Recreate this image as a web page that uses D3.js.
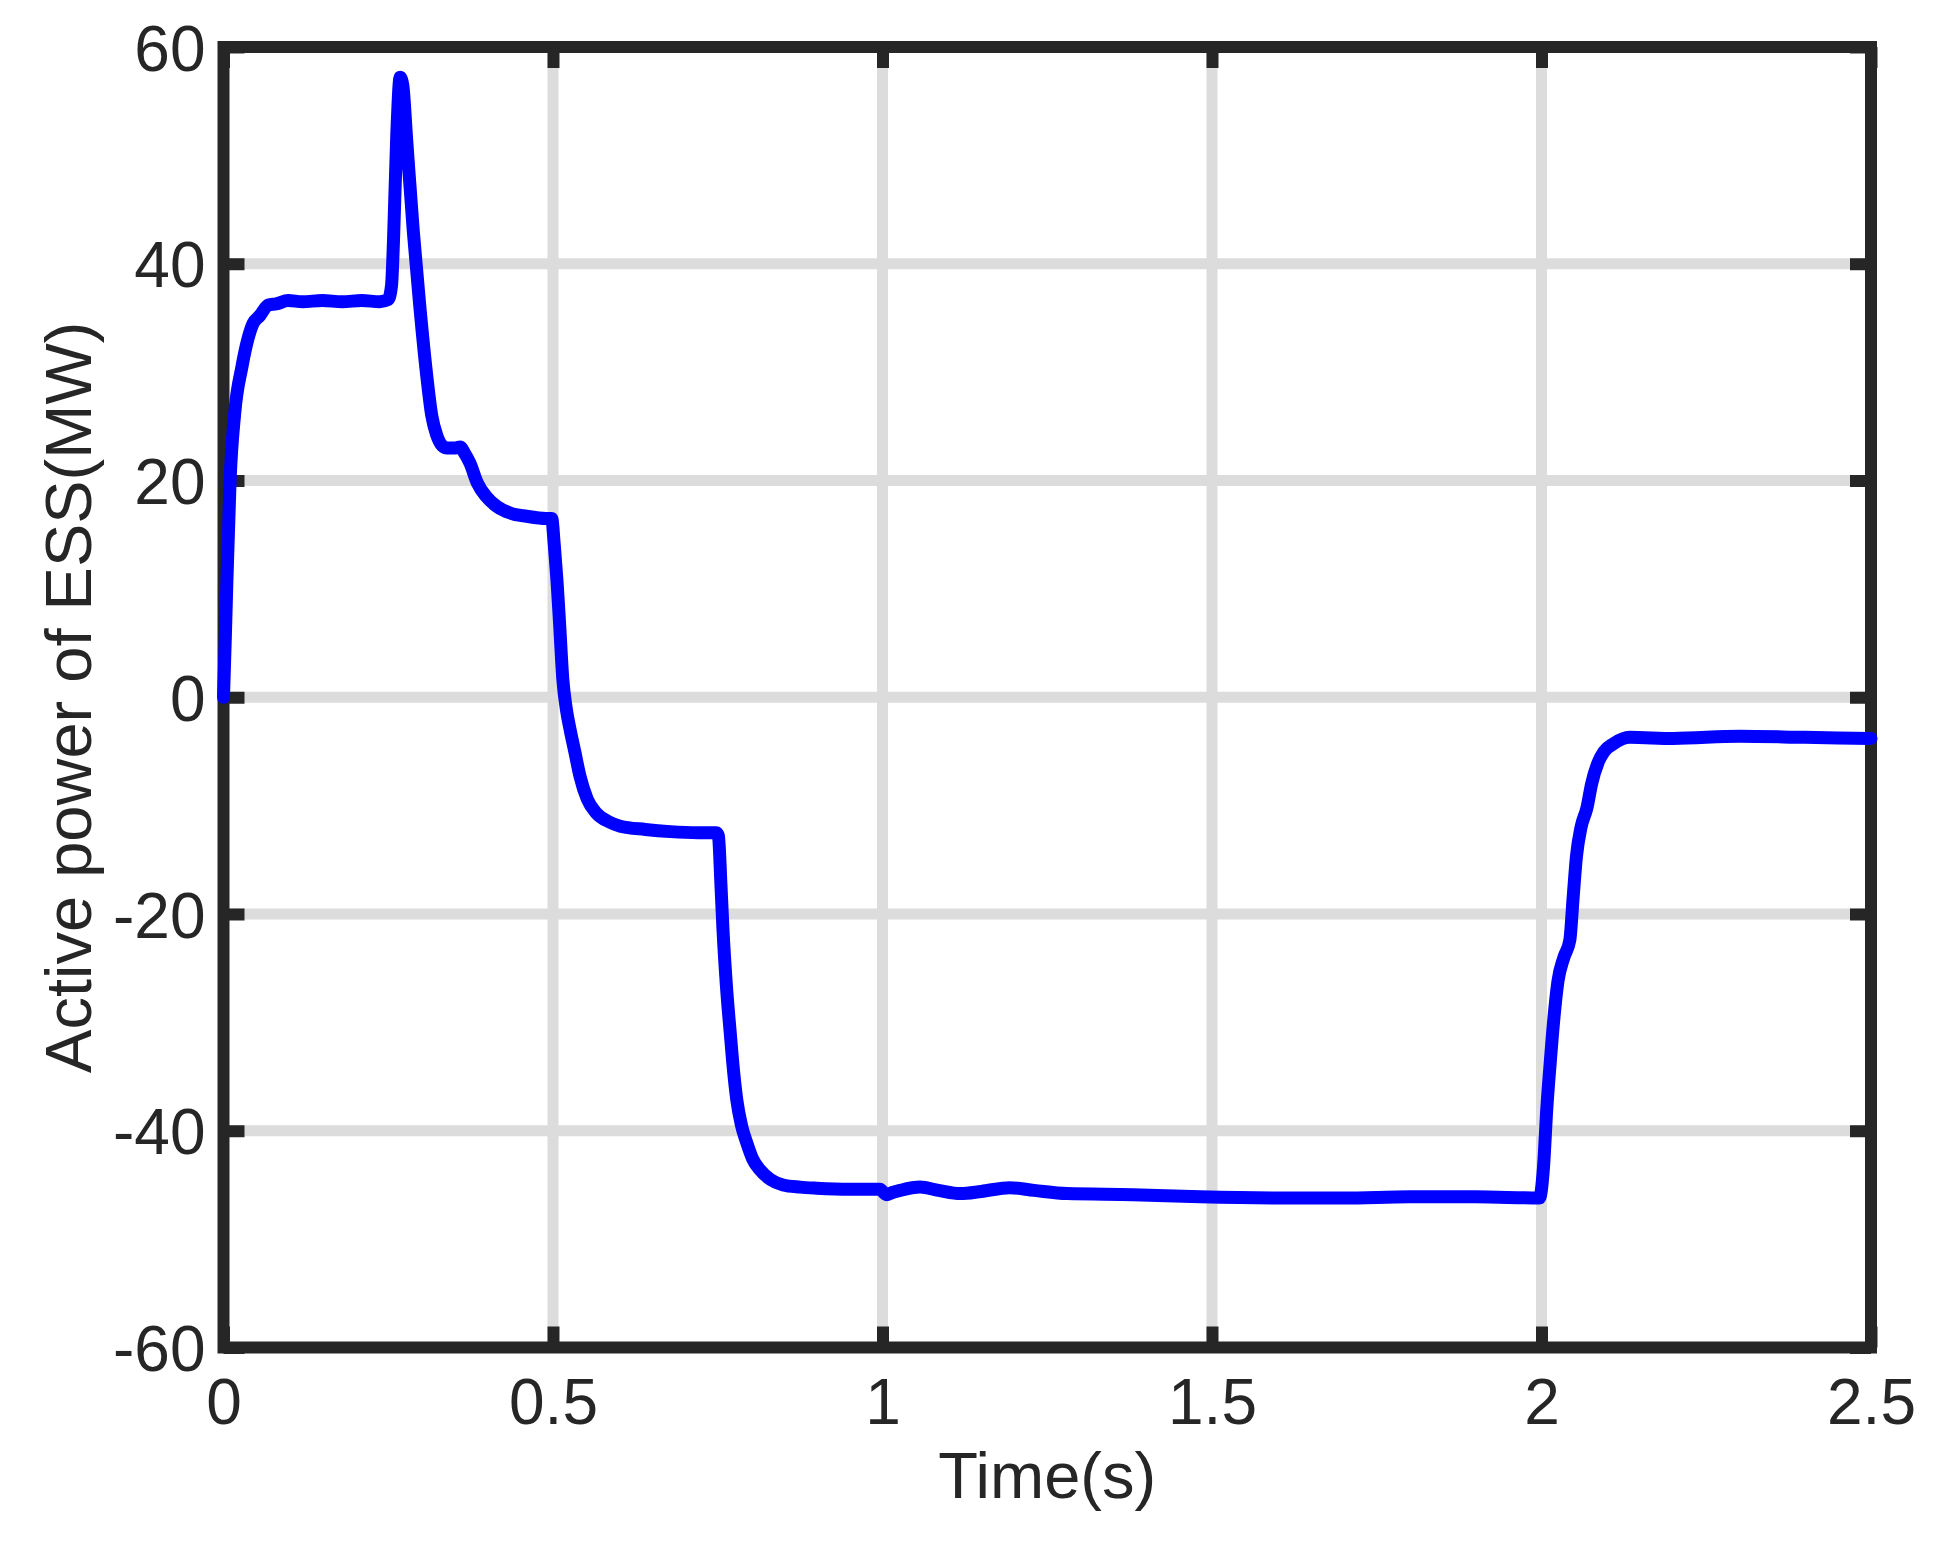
<!DOCTYPE html>
<html>
<head>
<meta charset="utf-8">
<script src="https://cdn.jsdelivr.net/npm/d3@7"></script>
<style>
  html, body { margin: 0; padding: 0; background: #ffffff; }
  svg { display: block; }
</style>
</head>
<body>
<svg id="chart" width="1939" height="1542"></svg>
<script>
// ---- data ----
const timeS = [0, 0.003, 0.005, 0.01, 0.017, 0.028, 0.045, 0.055, 0.068, 0.08, 0.098, 0.12, 0.15, 0.18, 0.21, 0.237, 0.25, 0.255, 0.258, 0.263, 0.268, 0.272, 0.278, 0.288, 0.298, 0.308, 0.316, 0.3235, 0.332, 0.339, 0.352, 0.359, 0.366, 0.374, 0.385, 0.399, 0.415, 0.435, 0.46, 0.49, 0.498, 0.502, 0.506, 0.51, 0.515, 0.52, 0.526, 0.533, 0.541, 0.552, 0.566, 0.585, 0.602, 0.64, 0.678, 0.72, 0.748, 0.751, 0.755, 0.758, 0.763, 0.769, 0.774, 0.779, 0.786, 0.794, 0.803, 0.814, 0.83, 0.849, 0.875, 0.9, 0.95, 0.996, 1.006, 1.015, 1.027, 1.057, 1.085, 1.118, 1.15, 1.193, 1.23, 1.28, 1.38, 1.482, 1.6, 1.7, 1.8, 1.9, 1.997, 2.003, 2.008, 2.013, 2.019, 2.025, 2.034, 2.043, 2.048, 2.053, 2.06, 2.069, 2.076, 2.086, 2.095, 2.109, 2.134, 2.2, 2.3, 2.4, 2.5];
const powerMW = [0, 6, 10.4, 20, 26.2, 30.5, 34.5, 35.2, 36.2, 36.3, 36.6, 36.5, 36.6, 36.5, 36.6, 36.5, 36.7, 38, 42.2, 52, 57.2, 56.5, 51.4, 43, 36.0, 29.9, 26, 24.2, 23.2, 23.0, 23.0, 23.1, 22.5, 21.6, 19.8, 18.5, 17.6, 17.0, 16.7, 16.5, 16.5, 14, 10.8, 6.8, 1.6, -1.0, -3.0, -5.0, -7.3, -9.4, -10.7, -11.5, -11.9, -12.2, -12.4, -12.5, -12.5, -12.8, -17.5, -21.5, -26.5, -31.0, -34.5, -37.2, -39.5, -41.1, -42.6, -43.6, -44.5, -45.0, -45.2, -45.3, -45.4, -45.4, -45.9, -45.7, -45.5, -45.2, -45.5, -45.8, -45.6, -45.25, -45.5, -45.8, -45.9, -46.1, -46.2, -46.2, -46.1, -46.1, -46.2, -43.4, -38, -33.9, -29.5, -26.2, -24, -22.4, -18.5, -14.7, -12, -10.2, -8, -6.0, -5, -4.3, -3.7, -3.8, -3.6, -3.7, -3.8];
const xTicks = [0, 0.5, 1, 1.5, 2, 2.5];
const xTickLabels = ["0", "0.5", "1", "1.5", "2", "2.5"];
const yTicks = [-60, -40, -20, 0, 20, 40, 60];
const yTickLabels = ["-60", "-40", "-20", "0", "20", "40", "60"];
const xTitle = "Time(s)";
const yTitle = "Active power of ESS(MW)";

// ---- layout ----
const pL = 223.5, pR = 1871, pT = 47, pB = 1347.5;
const ink = "#262626";
const font = "'Liberation Sans', Arial, Helvetica, sans-serif";

const svg = d3.select("#chart");
const x = d3.scaleLinear().domain([0, 2.5]).range([pL, pR]);
const y = d3.scaleLinear().domain([-60, 60]).range([pB, pT]);

// grid
const grid = svg.append("g");
grid.selectAll("line.gx").data(xTicks.slice(1, -1)).enter().append("line")
  .attr("x1", d => x(d)).attr("x2", d => x(d)).attr("y1", pT).attr("y2", pB)
  .attr("stroke", "#dcdcdc").attr("stroke-width", 11);
grid.selectAll("line.gy").data(yTicks.slice(1, -1)).enter().append("line")
  .attr("y1", d => y(d)).attr("y2", d => y(d)).attr("x1", pL).attr("x2", pR)
  .attr("stroke", "#dcdcdc").attr("stroke-width", 11);

// axes via d3 axis (inner ticks), labels customised
const tickLen = 21;
const xAxisB = d3.axisBottom(x).tickValues(xTicks).tickSizeInner(-tickLen).tickSizeOuter(0)
  .tickFormat((d, i) => xTickLabels[i]);
const xAxisT = d3.axisTop(x).tickValues(xTicks).tickSizeInner(-tickLen).tickSizeOuter(0).tickFormat("");
const yAxisL = d3.axisLeft(y).tickValues(yTicks).tickSizeInner(-tickLen).tickSizeOuter(0)
  .tickFormat((d, i) => yTickLabels[i]);
const yAxisR = d3.axisRight(y).tickValues(yTicks).tickSizeInner(-tickLen).tickSizeOuter(0).tickFormat("");

function styleAxis(g) {
  g.select(".domain").remove();
  g.selectAll(".tick line").attr("stroke", ink).attr("stroke-width", 12);
  g.selectAll(".tick text").attr("fill", ink).style("font-family", font).style("font-size", "64px");
}
svg.append("g").attr("transform", `translate(0,${pB})`).call(xAxisB).call(styleAxis)
  .selectAll(".tick text").attr("dy", null).attr("y", 76);
svg.append("g").attr("transform", `translate(0,${pT})`).call(xAxisT).call(styleAxis);
svg.append("g").attr("transform", `translate(${pL},0)`).call(yAxisL).call(styleAxis)
  .selectAll(".tick text").attr("x", -18).attr("dy", "0.36em");
svg.append("g").attr("transform", `translate(${pR},0)`).call(yAxisR).call(styleAxis);

// box
svg.append("rect").attr("x", pL).attr("y", pT).attr("width", pR - pL).attr("height", pB - pT)
  .attr("fill", "none").attr("stroke", ink).attr("stroke-width", 12);

// titles
svg.append("text").attr("x", (pL + pR) / 2).attr("y", 1498).attr("text-anchor", "middle")
  .attr("fill", ink).style("font-family", font).style("font-size", "65px").text(xTitle);
svg.append("text").attr("transform", `translate(91,${(pT + pB) / 2}) rotate(-90)`)
  .attr("text-anchor", "middle").attr("fill", ink).style("font-family", font).style("font-size", "65px").text(yTitle);

// series
const pts = timeS.map((t, i) => [t, powerMW[i]]);
const line = d3.line().x(d => x(d[0])).y(d => y(d[1])).curve(d3.curveMonotoneX);
svg.append("path").datum(pts).attr("d", line).attr("fill", "none")
  .attr("stroke", "#0000ff").attr("stroke-width", 13)
  .attr("stroke-linejoin", "round").attr("stroke-linecap", "round");
</script>
</body>
</html>
